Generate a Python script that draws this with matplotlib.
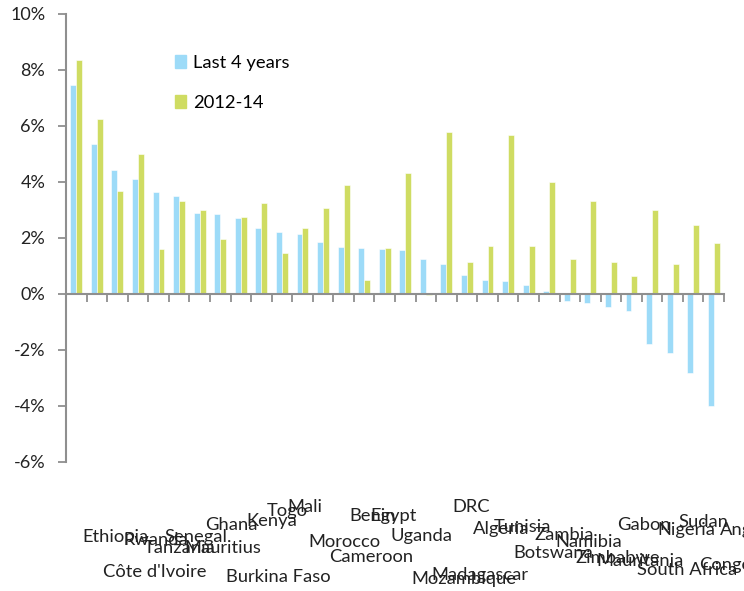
import numpy as np
import matplotlib.pyplot as plt
from matplotlib.patches import Patch
import matplotlib.transforms as mtransforms

plt.rcParams['font.family'] = ['Lato', 'DejaVu Sans']

countries = ['Ethiopia', "Côte d'Ivoire", 'Rwanda', 'Tanzania', 'Senegal', 'Mauritius',
             'Ghana', 'Burkina Faso', 'Kenya', 'Togo', 'Mali', 'Morocco', 'Cameroon',
             'Benin', 'Egypt', 'Uganda', 'Mozambique', 'Madagascar', 'DRC', 'Algeria',
             'Tunisia', 'Botswana', 'Zambia', 'Namibia', 'Zimbabwe', 'Mauritania',
             'Gabon', 'South Africa', 'Nigeria', 'Sudan', 'Congo', 'Angola']
last4 = [7.46, 5.35, 4.44, 4.11, 3.64, 3.51, 2.90, 2.87, 2.71, 2.36, 2.23, 2.15, 1.85,
         1.67, 1.64, 1.61, 1.58, 1.25, 1.08, 0.68, 0.50, 0.48, 0.32, 0.09, -0.24, -0.31,
         -0.45, -0.61, -1.77, -2.12, -2.81, -3.99]
y2012_14 = [8.36, 6.26, 3.68, 5.00, 1.61, 3.32, 3.00, 1.96, 2.75, 3.25, 1.48, 2.36, 3.06,
            3.89, 0.51, 1.65, 4.31, -0.03, 5.79, 1.13, 1.71, 5.68, 1.70, 4.00, 1.25, 3.33,
            1.14, 0.63, 3.00, 1.07, 2.46, 1.81]
yticks = [-6, -4, -2, 0, 2, 4, 6, 8, 10]

# staggered label heights (pixels from top of the figure)
label_y_px = [537, 572, 540, 548, 537, 548, 525, 577, 521, 511, 507, 542, 557, 516, 516,
              536, 579, 575, 507, 529, 527, 553, 535, 542, 558, 561, 525, 570, 530, 522,
              565, 530]

blue = '#9ddbf8'
green = '#cfdc62'
grey = '#8f8f8f'

W, H = 744, 591
fig = plt.figure(figsize=(W / 100, H / 100), dpi=100)
ax = fig.add_axes([66 / W, 1 - 462 / H, (724 - 66) / W, (462 - 14) / H])

x = np.arange(len(countries))
bw = 0.29
ax.bar(x + 0.5 - bw / 2, last4, width=bw, color=blue, edgecolor='white', linewidth=0.4,
       label='Last 4 years')
ax.bar(x + 0.5 + bw / 2, y2012_14, width=bw, color=green, edgecolor='white', linewidth=0.4,
       label='2012-14')

ax.set_xlim(0, len(countries))
ax.set_ylim(-6, 10)
ax.set_yticks(yticks)
ax.set_yticklabels([f'{v}%' for v in yticks], fontsize=13, color='#222222')
ax.tick_params(axis='y', length=6, width=1.3, color=grey, pad=9)

for s in ['top', 'right']:
    ax.spines[s].set_visible(False)
ax.spines['left'].set_color(grey)
ax.spines['left'].set_linewidth(1.5)
ax.spines['bottom'].set_position(('data', 0))
ax.spines['bottom'].set_color(grey)
ax.spines['bottom'].set_linewidth(1.5)
ax.set_xticks(np.arange(len(countries) + 1))
ax.set_xticklabels([])
ax.tick_params(axis='x', direction='out', length=6, width=1.3, color=grey)

trans = mtransforms.blended_transform_factory(ax.transData, fig.transFigure)
for i, name in enumerate(countries):
    ax.text(i + 0.78, 1 - label_y_px[i] / H, name, transform=trans, ha='left',
            va='center', fontsize=13.2, color='#222222', clip_on=False)

handles = [Patch(color=blue, label='Last 4 years'), Patch(color=green, label='2012-14')]
ax.legend(handles=handles, loc='upper left', bbox_to_anchor=(0.14, 0.945), frameon=False,
          fontsize=13.2, handlelength=0.6, handleheight=0.7, handletextpad=0.4,
          labelspacing=1.3)

fig.savefig('out.png', dpi=100)
